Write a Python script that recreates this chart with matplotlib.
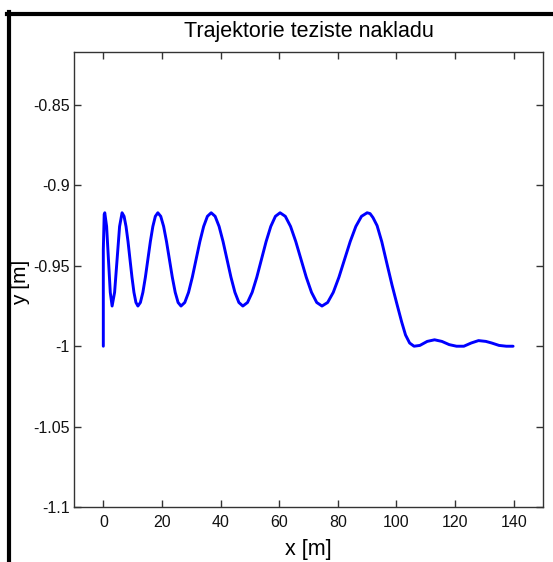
import matplotlib
matplotlib.use("Agg")
import matplotlib.pyplot as plt
from matplotlib.lines import Line2D

plt.rcParams['font.family'] = ["Liberation Sans", "DejaVu Sans"]

x_m = [0.0, 0.0, 0.3, 0.5, 1.125, 1.75, 2.375, 3.0, 3.85, 4.7, 5.55, 6.4,
       7.08, 7.75, 8.43, 9.1, 9.78, 10.45, 11.13, 11.8,
       12.65, 13.5, 14.35, 15.2, 16.05, 16.9, 17.75, 18.6,
       19.59, 20.58, 21.56, 22.55, 23.54, 24.53, 25.51, 26.5,
       27.79, 29.08, 30.36, 31.65, 32.94, 34.23, 35.51, 36.8,
       38.15, 39.5, 40.85, 42.2, 43.55, 44.9, 46.25, 47.6,
       49.19, 50.78, 52.36, 53.95, 55.54, 57.13, 58.71, 60.3,
       62.09, 63.88, 65.66, 67.45, 69.24, 71.03, 72.81, 74.6,
       76.53, 78.45, 80.38, 82.3, 84.23, 86.15, 88.08, 90.0,
       91.0, 92.0, 93.4, 95.0, 96.8, 98.5, 100.2, 101.8, 103.1, 104.5, 106.0,
       108.0, 110.5, 113.0, 115.5, 118.0, 120.5, 123.0, 125.5, 128.0, 130.5,
       132.5, 135.0, 137.5, 139.8]
y_m = [-1.000, -0.940, -0.918, -0.917, -0.9255, -0.946, -0.9665, -0.975, -0.9665, -0.946, -0.9255, -0.917,
       -0.9192, -0.9255, -0.9349, -0.946, -0.9571, -0.9665, -0.9728, -0.975,
       -0.9728, -0.9665, -0.9571, -0.946, -0.9349, -0.9255, -0.9192, -0.917,
       -0.9192, -0.9255, -0.9349, -0.946, -0.9571, -0.9665, -0.9728, -0.975,
       -0.9728, -0.9665, -0.9571, -0.946, -0.9349, -0.9255, -0.9192, -0.917,
       -0.9192, -0.9255, -0.9349, -0.946, -0.9571, -0.9665, -0.9728, -0.975,
       -0.9728, -0.9665, -0.9571, -0.946, -0.9349, -0.9255, -0.9192, -0.917,
       -0.9192, -0.9255, -0.9349, -0.946, -0.9571, -0.9665, -0.9728, -0.975,
       -0.9728, -0.9665, -0.9571, -0.946, -0.9349, -0.9255, -0.9192, -0.917,
       -0.9175, -0.920, -0.925, -0.935, -0.949, -0.962, -0.974, -0.985, -0.993, -0.998, -1.000,
       -0.9995, -0.997, -0.996, -0.997, -0.999, -1.000, -1.000, -0.998, -0.9965, -0.997,
       -0.998, -0.9995, -1.000, -1.000]

x_ticks = [0, 20, 40, 60, 80, 100, 120, 140]
y_ticks = [-1.1, -1.05, -1.0, -0.95, -0.9, -0.85]
y_tick_labels = ["-1.1", "-1.05", "-1", "-0.95", "-0.9", "-0.85"]

W, H = 553, 562
fig = plt.figure(figsize=(W / 100, H / 100), dpi=100)
ax = fig.add_axes([74 / W, 1 - 507 / H, (543 - 74) / W, (507 - 52) / H])

ax.plot(x_m, y_m, color="#0000ff", lw=2.1, solid_joinstyle="round", solid_capstyle="round")
ax.set_xlim(-10, 150)
ax.set_ylim(-1.1, -0.817)
ax.set_xticks(x_ticks)
ax.set_yticks(y_ticks)
ax.set_yticklabels(y_tick_labels)
ax.tick_params(direction="in", length=5, width=1, top=True, right=True,
               labelsize=11.5, colors="#333333", labelcolor="#111111")
ax.tick_params(axis="x", pad=6)
ax.tick_params(axis="y", pad=3)
for s in ax.spines.values():
    s.set_color("#333333")
    s.set_linewidth(1.0)

fig.text(309 / W, 1 - 31 / H, "Trajektorie teziste nakladu", fontsize=15.5,
         ha="center", va="center")
fig.text(308 / W, 1 - 550 / H, "x [m]", fontsize=15.5, ha="center", va="center")
fig.text(21 / W, 1 - 282 / H, "y [m]", fontsize=15, ha="center", va="center",
         rotation=90)

# outer black frame (left and top)
fig.add_artist(Line2D([8.5 / W, 8.5 / W], [0, 1 - 12 / H], color="black", lw=3, transform=fig.transFigure))
fig.add_artist(Line2D([7 / W, 1], [1 - 13.7 / H, 1 - 13.7 / H], color="black", lw=3, transform=fig.transFigure))

fig.savefig("out.png", dpi=100)
